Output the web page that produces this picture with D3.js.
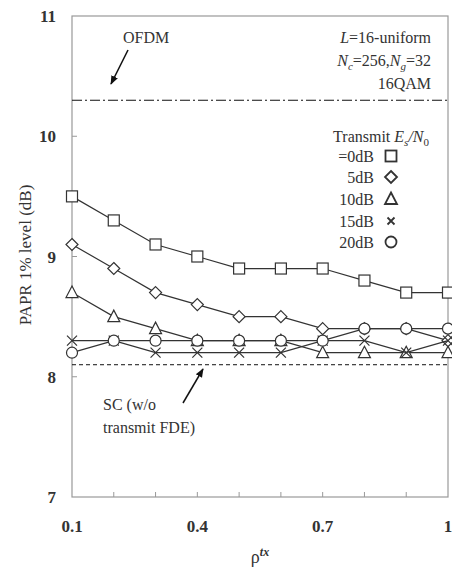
<!DOCTYPE html>
<html><head><meta charset="utf-8">
<script src="https://cdn.jsdelivr.net/npm/d3@7"></script>
<style>body{margin:0;background:#fff}svg{display:block}</style>
</head><body>
<script>
const rho = [0.1,0.2,0.3,0.4,0.5,0.6,0.7,0.8,0.9,1.0];
const s0dB  = [9.5,9.3,9.1,9.0,8.9,8.9,8.9,8.8,8.7,8.7];
const s5dB  = [9.1,8.9,8.7,8.6,8.5,8.5,8.4,8.4,8.4,8.3];
const s10dB = [8.7,8.5,8.4,8.3,8.3,8.3,8.2,8.2,8.2,8.2];
const s15dB = [8.3,8.3,8.2,8.2,8.2,8.2,8.3,8.3,8.2,8.3];
const s20dB = [8.2,8.3,8.3,8.3,8.3,8.3,8.3,8.4,8.4,8.4];
const seriesNames = ["=0dB","5dB","10dB","15dB","20dB"];
const seriesSymbols = ["square","diamond","triangle","cross","circle"];
const ofdmLevel = 10.3;
const scLevel = 8.1;
const yTicks = [7,8,9,10,11];
const xTickLabels = [0.1,0.4,0.7,1];
const xMinorTicks = [0.1,0.2,0.3,0.4,0.5,0.6,0.7,0.8,0.9,1.0];

const FONT = "'Liberation Serif', 'DejaVu Serif', 'Times New Roman', Times, serif";
const W=452,H=571;
const svg=d3.select("body").append("svg").attr("width",W).attr("height",H)
  .attr("font-family",FONT).attr("fill","#333");
const x=d3.scaleLinear().domain([0.1,1]).range([72,448]);
const y=d3.scaleLinear().domain([7,11]).range([497,16]);
const ink="#333", frame="#999";

// frame
svg.append("rect").attr("x",x(0.1)).attr("y",y(11)).attr("width",x(1)-x(0.1)).attr("height",y(7)-y(11))
  .attr("fill","none").attr("stroke",frame).attr("stroke-width",1.2);
// ticks inside
svg.selectAll(".xt").data(xMinorTicks.slice(1,-1)).enter().append("line")
  .attr("x1",d=>x(d)).attr("x2",d=>x(d)).attr("y1",y(7)).attr("y2",y(7)-5).attr("stroke",frame);
svg.selectAll(".yt").data(yTicks.slice(1,-1)).enter().append("line")
  .attr("x1",x(0.1)).attr("x2",x(0.1)+5).attr("y1",d=>y(d)).attr("y2",d=>y(d)).attr("stroke",frame);
// tick labels
svg.selectAll(".yl").data(yTicks).enter().append("text").attr("font-family",FONT)
  .attr("x",56).attr("y",d=>y(d)+6).attr("text-anchor","end").attr("font-size",17).attr("font-weight","bold").text(d=>d);
svg.selectAll(".xl").data(xTickLabels).enter().append("text").attr("font-family",FONT)
  .attr("x",d=>x(d)).attr("y",532).attr("text-anchor","middle").attr("font-size",17).attr("font-weight","bold").text(d=>d);
// axis titles
const xt=svg.append("text").attr("x",260).attr("y",563).attr("text-anchor","middle").attr("font-size",18);
xt.append("tspan").text("ρ");
xt.append("tspan").attr("dy",-7).attr("font-size",12).attr("font-style","italic").attr("font-weight","bold").text("tx");
svg.append("text").attr("transform","translate(31,255) rotate(-90)").attr("text-anchor","middle").attr("font-size",17).text("PAPR 1% level (dB)");

// reference lines
svg.append("line").attr("x1",x(0.1)).attr("x2",x(1)).attr("y1",y(ofdmLevel)).attr("y2",y(ofdmLevel))
  .attr("stroke","#111").attr("stroke-width",1.1).attr("stroke-dasharray","10,3,2,3");
svg.append("line").attr("x1",x(0.1)).attr("x2",x(1)).attr("y1",y(scLevel)).attr("y2",y(scLevel))
  .attr("stroke","#111").attr("stroke-width",1).attr("stroke-dasharray","4,3");

// arrows
const defs=svg.append("defs");
defs.append("marker").attr("id","ah").attr("viewBox","0 0 10 10").attr("refX",9).attr("refY",5)
  .attr("markerWidth",9).attr("markerHeight",9).attr("orient","auto-start-reverse").attr("markerUnits","userSpaceOnUse")
  .append("path").attr("d","M0,1 L10,5 L0,9 z").attr("fill","#111");
svg.append("line").attr("x1",128).attr("y1",50).attr("x2",111).attr("y2",84).attr("stroke","#111").attr("stroke-width",1.5).attr("marker-end","url(#ah)");
svg.append("line").attr("x1",183).attr("y1",403).attr("x2",203).attr("y2",369).attr("stroke","#111").attr("stroke-width",1.5).attr("marker-end","url(#ah)");

// annotations
svg.append("text").attr("x",123).attr("y",43).attr("font-size",16).text("OFDM");
svg.append("text").attr("x",103).attr("y",410).attr("font-size",16).text("SC (w/o");
svg.append("text").attr("x",103).attr("y",433).attr("font-size",16).text("transmit FDE)");

const t1=svg.append("text").attr("x",431).attr("y",43).attr("text-anchor","end").attr("font-size",16);
t1.append("tspan").attr("font-style","italic").text("L");
t1.append("tspan").text("=16-uniform");
const t2=svg.append("text").attr("x",431).attr("y",66).attr("text-anchor","end").attr("font-size",16);
t2.append("tspan").attr("font-style","italic").text("N");
t2.append("tspan").attr("font-style","italic").attr("font-size",11).attr("dy",4).text("c");
t2.append("tspan").attr("dy",-4).text("=256,");
t2.append("tspan").attr("font-style","italic").text("N");
t2.append("tspan").attr("font-style","italic").attr("font-size",11).attr("dy",4).text("g");
t2.append("tspan").attr("dy",-4).text("=32");
svg.append("text").attr("x",431).attr("y",89).attr("text-anchor","end").attr("font-size",16).text("16QAM");
const t3=svg.append("text").attr("x",429).attr("y",142).attr("text-anchor","end").attr("font-size",16);
t3.append("tspan").text("Transmit ");
t3.append("tspan").attr("font-style","italic").text("E");
t3.append("tspan").attr("font-style","italic").attr("font-size",11).attr("dy",4).text("s");
t3.append("tspan").attr("dy",-4).attr("font-style","italic").text("/N");
t3.append("tspan").attr("font-size",11).attr("dy",4).text("0");

// symbol drawing
function drawSym(g,type,cx,cy,legend){
  const st={fill:"#fff",stroke:ink,"stroke-width":1.2};
  let el;
  if(type==="square"){el=g.append("rect").attr("x",cx-5.5).attr("y",cy-5.5).attr("width",11).attr("height",11);}
  else if(type==="diamond"){el=g.append("path").attr("d",`M${cx},${cy-6}L${cx+6},${cy}L${cx},${cy+6}L${cx-6},${cy}Z`);}
  else if(type==="triangle"){el=g.append("path").attr("d",`M${cx},${cy-6.5}L${cx+6},${cy+5}L${cx-6},${cy+5}Z`);}
  else if(type==="circle"){el=g.append("circle").attr("cx",cx).attr("cy",cy).attr("r",5.5);}
  else if(type==="cross"){const r=legend?3.5:5;el=g.append("path").attr("d",`M${cx-r},${cy-r}L${cx+r},${cy+r}M${cx-r},${cy+r}L${cx+r},${cy-r}`);st.fill="none";}
  for(const k in st) el.attr(k,st[k]);
  if(legend) el.attr("stroke-width",1.8);
}

const allSeries=[s0dB,s5dB,s10dB,s15dB,s20dB];
const line=d3.line().x((d,i)=>x(rho[i])).y(d=>y(d));
allSeries.forEach((s,k)=>{
  const g=svg.append("g");
  g.append("path").attr("d",line(s)).attr("fill","none").attr("stroke",ink).attr("stroke-width",1.2);
  s.forEach((v,i)=>drawSym(g,seriesSymbols[k],x(rho[i]),y(v),false));
});

// legend
const legY=[157,178,200,222,243];
seriesNames.forEach((n,k)=>{
  svg.append("text").attr("x",374).attr("y",legY[k]+5).attr("text-anchor","end").attr("font-size",16).text(n);
  drawSym(svg,seriesSymbols[k],391,legY[k]-1,true);
});
</script>
</body></html>
